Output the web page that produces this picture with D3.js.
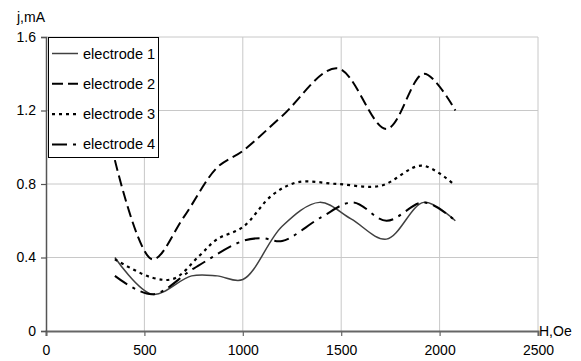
<!DOCTYPE html>
<html>
<head>
<meta charset="utf-8">
<script src="https://cdn.jsdelivr.net/npm/d3@7"></script>
<style>
  html, body { margin: 0; padding: 0; background: #fff; }
  svg { display: block; }
  text { font-family: "Liberation Sans", Arial, sans-serif; font-size: 14px; fill: #000; }
</style>
</head>
<body>
<svg id="chart" width="581" height="361"></svg>
<script>
// ---- data ----
const xTicks = [0, 500, 1000, 1500, 2000, 2500];
const yTicks = [0, 0.4, 0.8, 1.2, 1.6];
const yTickLabels = ["0", "0.4", "0.8", "1.2", "1.6"];
const seriesNames = ["electrode 1", "electrode 2", "electrode 3", "electrode 4"];

const e1H = [350, 540, 740, 870, 1000, 1200, 1390, 1550, 1730, 1920, 2080];
const e1J = [0.40, 0.20, 0.30, 0.30, 0.28, 0.57, 0.70, 0.61, 0.50, 0.70, 0.60];

const e2H = [350, 540, 700, 870, 1000, 1200, 1480, 1730, 1920, 2080];
const e2J = [0.93, 0.39, 0.62, 0.89, 0.98, 1.17, 1.43, 1.10, 1.40, 1.20];

const e3H = [350, 540, 650, 780, 870, 1000, 1150, 1280, 1480, 1700, 1910, 2070];
const e3J = [0.39, 0.29, 0.285, 0.41, 0.50, 0.565, 0.74, 0.81, 0.80, 0.79, 0.90, 0.80];

const e4H = [350, 540, 750, 1000, 1100, 1200, 1400, 1560, 1730, 1920, 2080];
const e4J = [0.30, 0.20, 0.34, 0.49, 0.505, 0.49, 0.62, 0.70, 0.60, 0.70, 0.60];

const seriesH = [e1H, e2H, e3H, e4H];
const seriesJ = [e1J, e2J, e3J, e4J];

// ---- styles ----
const styles = [
  { stroke: "#404040", width: 1.5, dash: null },
  { stroke: "#000", width: 2, dash: "11,5" },
  { stroke: "#000", width: 2.2, dash: "3,4" },
  { stroke: "#000", width: 2, dash: "15,6,3,6" }
];

const svg = d3.select("#chart");
const x = d3.scaleLinear().domain([0, 2500]).range([46, 538]);
const y = d3.scaleLinear().domain([0, 1.6]).range([331, 37]);

// gridlines
const grid = svg.append("g");
grid.selectAll("line.v").data(xTicks.slice(1)).join("line")
  .attr("x1", d => x(d)).attr("x2", d => x(d))
  .attr("y1", y(1.6)).attr("y2", y(0))
  .attr("stroke", "#c8c8c8").attr("stroke-width", 1);
grid.selectAll("line.h").data(yTicks.slice(1)).join("line")
  .attr("x1", x(0)).attr("x2", x(2500))
  .attr("y1", d => y(d)).attr("y2", d => y(d))
  .attr("stroke", "#c8c8c8").attr("stroke-width", 1);

// axes
const xAxis = d3.axisBottom(x).tickValues(xTicks).tickSize(5).tickPadding(9)
  .tickFormat(d3.format("d"));
const gx = svg.append("g").attr("transform", `translate(0,${y(0)})`).call(xAxis);
gx.select(".domain").attr("stroke", "#666").attr("stroke-width", 2);
gx.selectAll(".tick line").attr("stroke", "#666").attr("stroke-width", 1.2);
gx.selectAll("text").style("font-family", '"Liberation Sans", Arial, sans-serif')
  .style("font-size", "14px").attr("fill", "#000");

const yAxis = d3.axisLeft(y).tickValues(yTicks).tickSize(5).tickPadding(5)
  .tickFormat((d, i) => yTickLabels[i]);
const gy = svg.append("g").attr("transform", `translate(${x(0)},0)`).call(yAxis);
gy.select(".domain").attr("stroke", "#555").attr("stroke-width", 1.5);
gy.selectAll(".tick line").attr("stroke", "#555").attr("stroke-width", 1.2);
gy.selectAll("text").style("font-family", '"Liberation Sans", Arial, sans-serif')
  .style("font-size", "14px").attr("fill", "#000");

// axis titles
svg.append("text").attr("x", 17).attr("y", 22).text("j,mA");
svg.append("text").attr("x", 539).attr("y", 336).text("H,Oe");

// lines
const line = d3.line()
  .x(d => x(d[0])).y(d => y(d[1]))
  .curve(d3.curveCatmullRom.alpha(0.5));

seriesH.forEach((hs, i) => {
  const pts = hs.map((h, k) => [h, seriesJ[i][k]]);
  svg.append("path").datum(pts)
    .attr("d", line)
    .attr("fill", "none")
    .attr("stroke", styles[i].stroke)
    .attr("stroke-width", styles[i].width)
    .attr("stroke-dasharray", styles[i].dash);
});

// legend
const lg = svg.append("g");
lg.append("rect").attr("x", 48.5).attr("y", 37.5).attr("width", 110).attr("height", 120)
  .attr("fill", "#fff").attr("stroke", "#000").attr("stroke-width", 1);
seriesNames.forEach((name, i) => {
  const yy = 53.5 + i * 30.3;
  lg.append("line").attr("x1", 52).attr("x2", 78).attr("y1", yy).attr("y2", yy)
    .attr("stroke", styles[i].stroke).attr("stroke-width", styles[i].width)
    .attr("stroke-dasharray", styles[i].dash);
  lg.append("text").attr("x", 83).attr("y", yy + 5).style("font-size", "14.6px").text(name);
});
</script>
</body>
</html>
